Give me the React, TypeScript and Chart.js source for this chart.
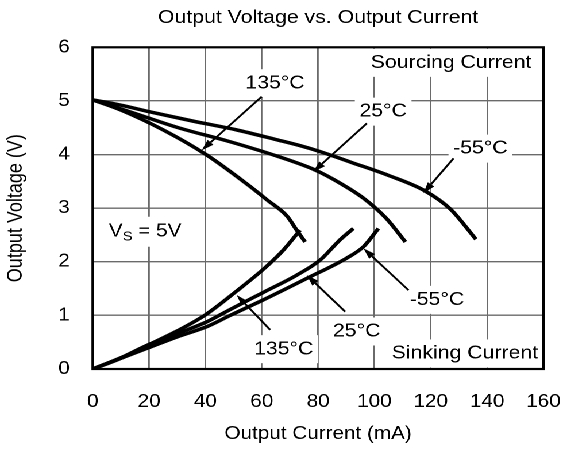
import React, { useEffect, useRef } from "react";
import { Chart, registerables } from "chart.js";

Chart.register(...registerables);

const FONT = '"Liberation Sans", Arial, Helvetica, sans-serif';
const W = 490;
const H = 455;
const SX = 563 / W;

// ---- axis ticks ----
const currentTicks = [0, 20, 40, 60, 80, 100, 120, 140, 160];
const voltageTicks = [0, 1, 2, 3, 4, 5, 6];

// ---- sourcing current curves (mA, V) ----
const srcM55X = [0, 10, 20, 35, 51, 65, 74, 81, 92, 105, 118, 127, 136];
const srcM55Y = [5.02, 4.92, 4.8, 4.63, 4.46, 4.28, 4.16, 4.05, 3.85, 3.61, 3.32, 2.98, 2.42];

const src25X = [0, 13, 31, 48, 66, 79, 88, 96, 104, 111];
const src25Y = [5.02, 4.8, 4.49, 4.25, 3.96, 3.71, 3.46, 3.19, 2.82, 2.37];

const src135X = [0, 10, 25, 40.5, 55, 62, 69, 72.4, 75.4];
const src135Y = [5.02, 4.83, 4.46, 3.99, 3.44, 3.15, 2.85, 2.59, 2.37];

// ---- sinking current curves (mA, V) ----
const snk135X = [0, 10, 19, 30, 40, 51, 61, 67.7, 73.6];
const snk135Y = [0, 0.2, 0.43, 0.71, 1.01, 1.45, 1.88, 2.22, 2.59];

const snk25X = [0, 10, 19.2, 30, 40.5, 48.8, 60.6, 72.4, 80.7, 87.8, 92.5];
const snk25Y = [0, 0.21, 0.44, 0.66, 0.88, 1.11, 1.43, 1.75, 2.03, 2.41, 2.62];

const snkM55X = [0, 10, 20, 30, 40.5, 48.8, 60.6, 76, 90.2, 96.1, 101.4];
const snkM55Y = [0, 0.2, 0.4, 0.6, 0.79, 1.0, 1.29, 1.69, 2.07, 2.28, 2.62];

// ---- annotation labels (text, mA, V) ----
const labelTexts = ["135°C", "25°C", "-55°C", "Sourcing Current", "Sinking Current", "-55°C", "25°C", "135°C"];
const labelX = [64.7, 103.1, 137.6, 127.2, 132.1, 122.2, 93.7, 67.8];
const labelY = [5.33, 4.8, 4.11, 5.71, 0.29, 1.29, 0.7, 0.37];

// ---- arrows (from -> to, head at "to") ----
const arrowFromX = [60.0, 97.3, 128.1, 112.1, 89.6, 63.0];
const arrowFromY = [5.08, 4.58, 3.93, 1.47, 1.07, 0.73];
const arrowToX = [38.7, 78.3, 117.4, 96.1, 76.0, 51.1];
const arrowToY = [4.08, 3.68, 3.28, 2.25, 1.75, 1.38];

// supply label position
const supplyX = 18.6;
const supplyY = 2.56;

const toPts = (xs: number[], ys: number[]) => xs.map((x, i) => ({ x, y: ys[i] }));

const overlay = {
  id: "overlay",
  beforeDatasetsDraw(chart: any) {
    const { ctx, scales } = chart;
    const xs = scales.x;
    const ys = scales.y;
    ctx.save();
    ctx.font = `18.5px ${FONT}`;
    ctx.fillStyle = "#fff";
    labelTexts.forEach((t, i) => {
      const px = xs.getPixelForValue(labelX[i]);
      const py = ys.getPixelForValue(labelY[i]);
      const w = ctx.measureText(t).width;
      ctx.fillRect(px - w / 2 - 4, py - 14, w + 8, 28);
    });
    const sx = xs.getPixelForValue(supplyX);
    const sy = ys.getPixelForValue(supplyY);
    ctx.fillRect(sx - 36, sy - 15, 72, 30);
    ctx.restore();
  },
  afterDatasetsDraw(chart: any) {
    const { ctx, scales, chartArea } = chart;
    const xs = scales.x;
    const ys = scales.y;
    ctx.save();
    ctx.fillStyle = "#000";
    ctx.font = `18.5px ${FONT}`;
    ctx.textAlign = "center";
    ctx.textBaseline = "middle";
    labelTexts.forEach((t, i) => {
      ctx.fillText(t, xs.getPixelForValue(labelX[i]), ys.getPixelForValue(labelY[i]));
    });
    // supply label: V_S = 5V
    const sx = xs.getPixelForValue(supplyX);
    const sy = ys.getPixelForValue(supplyY);
    ctx.textAlign = "left";
    ctx.font = `18px ${FONT}`;
    const wV = ctx.measureText("V").width;
    ctx.font = `13px ${FONT}`;
    const wS = ctx.measureText("S").width;
    ctx.font = `18px ${FONT}`;
    const wRest = ctx.measureText(" = 5V").width;
    const total = wV + wS + wRest;
    let cx = sx - total / 2;
    ctx.fillText("V", cx, sy);
    cx += wV;
    ctx.font = `13px ${FONT}`;
    ctx.fillText("S", cx, sy + 5);
    cx += wS;
    ctx.font = `18px ${FONT}`;
    ctx.fillText(" = 5V", cx, sy);

    // arrows
    ctx.strokeStyle = "#000";
    ctx.lineWidth = 1.8;
    arrowFromX.forEach((fx, i) => {
      const x1 = xs.getPixelForValue(fx);
      const y1 = ys.getPixelForValue(arrowFromY[i]);
      const x2 = xs.getPixelForValue(arrowToX[i]);
      const y2 = ys.getPixelForValue(arrowToY[i]);
      const ang = Math.atan2(y2 - y1, x2 - x1);
      const L = 11;
      const hw = 3.5;
      const bx = x2 - L * Math.cos(ang);
      const by = y2 - L * Math.sin(ang);
      ctx.beginPath();
      ctx.moveTo(x1, y1);
      ctx.lineTo(bx, by);
      ctx.stroke();
      ctx.beginPath();
      ctx.moveTo(x2, y2);
      ctx.lineTo(bx + hw * Math.sin(ang), by - hw * Math.cos(ang));
      ctx.lineTo(bx - hw * Math.sin(ang), by + hw * Math.cos(ang));
      ctx.closePath();
      ctx.fill();
    });

    // plot border
    ctx.lineWidth = 2.2;
    ctx.strokeRect(chartArea.left, chartArea.top, chartArea.right - chartArea.left, chartArea.bottom - chartArea.top);

    // title
    ctx.font = `18.5px ${FONT}`;
    ctx.textAlign = "center";
    ctx.textBaseline = "middle";
    ctx.fillText("Output Voltage vs. Output Current", (chartArea.left + chartArea.right) / 2, 18);
    ctx.restore();
  },
};

export default function App() {
  const ref = useRef<HTMLCanvasElement | null>(null);

  useEffect(() => {
    if (!ref.current) return;
    const line = (xs: number[], ys: number[]) => ({
      data: toPts(xs, ys),
      showLine: true,
      borderColor: "#000",
      backgroundColor: "#000",
      borderWidth: 3.5,
      pointRadius: 0,
      fill: false,
      cubicInterpolationMode: "monotone" as const,
    });
    const chart = new Chart(ref.current, {
      type: "scatter",
      data: {
        datasets: [
          line(srcM55X, srcM55Y),
          line(src25X, src25Y),
          line(src135X, src135Y),
          line(snk135X, snk135Y),
          line(snk25X, snk25Y),
          line(snkM55X, snkM55Y),
        ],
      },
      options: {
        responsive: false,
        animation: false,
        devicePixelRatio: 2,
        layout: { padding: { top: 47.3, right: 17, left: 0, bottom: 0 } },
        plugins: { legend: { display: false }, tooltip: { enabled: false }, title: { display: false } },
        scales: {
          x: {
            type: "linear",
            min: 0,
            max: 160,
            afterBuildTicks: (s: any) => {
              s.ticks = currentTicks.map((v) => ({ value: v }));
            },
            afterFit: (s: any) => {
              s.height = 86;
              s.paddingLeft = 0;
              s.paddingRight = 0;
            },
            ticks: { color: "#000", font: { family: FONT, size: 18 }, padding: 22, maxRotation: 0 },
            grid: { color: "#6a6a6a", lineWidth: 1.4, drawTicks: false },
            border: { display: false },
            title: {
              display: true,
              text: "Output Current (mA)",
              color: "#000",
              font: { family: FONT, size: 18 },
              padding: { top: 0, bottom: 10 },
            },
          },
          y: {
            type: "linear",
            min: 0,
            max: 6,
            afterBuildTicks: (s: any) => {
              s.ticks = voltageTicks.map((v) => ({ value: v }));
            },
            afterFit: (s: any) => {
              s.width = 80.7;
              s.paddingTop = 0;
              s.paddingBottom = 0;
            },
            ticks: { color: "#000", font: { family: FONT, size: 18 }, padding: 20 },
            grid: { color: "#6a6a6a", lineWidth: 1.4, drawTicks: false },
            border: { display: false },
            title: {
              display: true,
              text: "Output Voltage (V)",
              color: "#000",
              font: { family: FONT, size: 18 },
              padding: { top: 3, bottom: 0 },
            },
          },
        },
      },
      plugins: [overlay],
    });
    return () => chart.destroy();
  }, []);

  return (
    <div
      style={{
        position: "absolute",
        left: 0,
        top: 0,
        width: W,
        height: H,
        transform: `scaleX(${SX})`,
        transformOrigin: "0 0",
        background: "#fff",
      }}
    >
      <canvas ref={ref} width={W} height={H} />
    </div>
  );
}
